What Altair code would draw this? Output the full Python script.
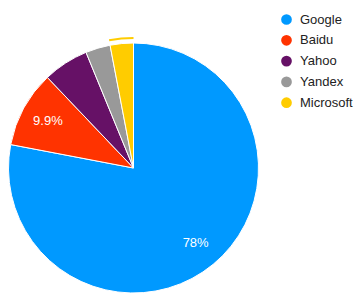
import altair as alt
import pandas as pd

engines = ["Google", "Baidu", "Yahoo", "Yandex", "Microsoft"]
shares = [78.0, 9.9, 5.9, 3.2, 3.0]
colors = ["#0099FF", "#FF3300", "#661166", "#999999", "#FFCC00"]
order_idx = [0, 1, 2, 3, 4]

df = pd.DataFrame({"engine": engines, "share": shares, "idx": order_idx})
df["label"] = df["share"].map(lambda v: (f"{v:.0f}%" if v >= 10 else f"{v:.1f}%"))

cx, cy, R = 133.5, 168, 125

color_scale = alt.Scale(domain=engines, range=colors)

base = alt.Chart(df).encode(
    theta=alt.Theta("share:Q", stack=True),
    order=alt.Order("idx:Q"),
    x=alt.value(cx),
    y=alt.value(cy),
)

pie = base.mark_arc(radius=R, stroke="white", strokeWidth=1).encode(
    color=alt.Color(
        "engine:N",
        scale=color_scale,
        sort=engines,
        legend=alt.Legend(
            title=None,
            orient="none",
            legendX=280,
            legendY=13,
            symbolType="circle",
            symbolSize=115,
            symbolStrokeWidth=0,
            labelFont="Liberation Sans",
            labelFontSize=13,
            labelColor="#222222",
            rowPadding=6.8,
            labelOffset=7,
        ),
    )
)

highlight = base.mark_arc(radius=R + 4, radius2=R + 6).encode(
    color=alt.Color("engine:N", scale=color_scale, legend=None),
    opacity=alt.condition(alt.datum.engine == "Microsoft", alt.value(1), alt.value(0)),
)

labels = base.mark_text(
    radius=97.5,
    font="Liberation Sans",
    fontSize=13,
    color="white",
).encode(
    text=alt.condition(alt.datum.share >= 9, alt.Text("label:N"), alt.value("")),
)

chart = (
    alt.layer(pie, highlight, labels)
    .properties(width=364, height=302, autosize=alt.AutoSizeParams(type="none"), padding=0)
    .configure_view(stroke=None)
)

chart.save("out.html", embed_options={"renderer": "svg", "actions": False})
